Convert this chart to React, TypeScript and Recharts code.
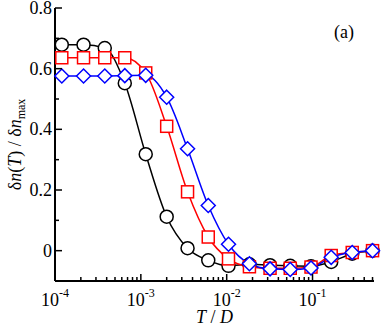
import React from 'react';
import { LineChart, Line, XAxis, YAxis } from 'recharts';

// T / D sample points (log-spaced)
const tOverD = [1.2e-4, 2.15e-4, 3.8e-4, 6.5e-4, 1.14e-3, 2.0e-3, 3.5e-3, 6.1e-3, 1.05e-2, 1.84e-2, 3.2e-2, 5.5e-2, 9.6e-2, 0.165, 0.29, 0.5];
const blackValues = [0.679, 0.679, 0.668, 0.552, 0.318, 0.112, 0.008, -0.032, -0.05, -0.045, -0.048, -0.05, -0.051, -0.037, -0.01, 0.0];
const redValues = [0.636, 0.636, 0.636, 0.636, 0.586, 0.41, 0.194, 0.045, -0.027, -0.053, -0.058, -0.058, -0.054, -0.016, -0.006, 0.0];
const blueValues = [0.576, 0.576, 0.576, 0.577, 0.578, 0.506, 0.336, 0.149, 0.021, -0.043, -0.06, -0.062, -0.057, -0.022, -0.006, 0.0];

const xMajorTicks = [1e-4, 1e-3, 1e-2, 1e-1];
const xMajorLabels = ['-4', '-3', '-2', '-1'];
const xMinorSteps = [2, 3, 4, 5, 6, 7, 8, 9];
const yTicks = [-0.1, 0, 0.1, 0.2, 0.3, 0.4, 0.5, 0.6, 0.7, 0.8];
const yMajorLabels = ['0', '0.2', '0.4', '0.6', '0.8'];

const X_DOMAIN = [1e-4, 0.52];
const Y_DOMAIN = [-0.1, 0.8];
const FONT = '"Liberation Serif", "Times New Roman", serif';

const data = tOverD.map((t, i) => ({
  t,
  black: blackValues[i],
  red: redValues[i],
  blue: blueValues[i],
}));

const xTicks: number[] = [];
xMajorTicks.forEach((m) => {
  xTicks.push(m);
  xMinorSteps.forEach((s) => {
    const v = m * s;
    if (v <= X_DOMAIN[1]) xTicks.push(v);
  });
});

const majorIndex = (v: number) => xMajorTicks.findIndex((m) => Math.abs(v / m - 1) < 1e-6);
const yMajorIndex = (v: number) => yMajorLabels.findIndex((l) => Math.abs(parseFloat(l) - v) < 1e-6);

const BottomTick = (props: any) => {
  const { x, y, payload } = props;
  const mi = majorIndex(payload.value);
  const major = mi >= 0;
  return (
    <g>
      <line x1={x} x2={x} y1={y} y2={y - (major ? 7 : 4)} stroke="#000" strokeWidth={1.5} />
      {major && (
        <text x={x} y={y + 25} textAnchor="middle" fontFamily={FONT} fontSize={18} fill="#000">
          10<tspan dy={-9} fontSize={12}>{xMajorLabels[mi]}</tspan>
        </text>
      )}
    </g>
  );
};

const TopTick = (props: any) => {
  const { x, y, payload } = props;
  const major = majorIndex(payload.value) >= 0;
  return <line x1={x} x2={x} y1={y} y2={y + (major ? 7 : 4)} stroke="#000" strokeWidth={1.5} />;
};

const LeftTick = (props: any) => {
  const { x, y, payload } = props;
  const mi = yMajorIndex(payload.value);
  const major = mi >= 0;
  return (
    <g>
      <line x1={x} x2={x + (major ? 7 : 4)} y1={y} y2={y} stroke="#000" strokeWidth={1.5} />
      {major && (
        <text x={x - 3} y={y + 6} textAnchor="end" fontFamily={FONT} fontSize={18} fill="#000">
          {yMajorLabels[mi]}
        </text>
      )}
    </g>
  );
};

const RightTick = (props: any) => {
  const { x, y, payload } = props;
  const major = yMajorIndex(payload.value) >= 0;
  return <line x1={x} x2={x - (major ? 7 : 4)} y1={y} y2={y} stroke="#000" strokeWidth={1.5} />;
};

// axis title plus the panel tag "(a)" near the top right corner of the plot
const XLabel = (props: any) => {
  const { x, y, width } = props.viewBox;
  return (
    <g>
      <text x={x + width / 2} y={y + 42} textAnchor="middle" fontFamily={FONT} fontSize={18} fill="#000">
        <tspan fontStyle="italic">T</tspan> / <tspan fontStyle="italic">D</tspan>
      </text>
      <text x={x + width - 30} y={38} textAnchor="middle" fontFamily={FONT} fontSize={18} fill="#000">
        (a)
      </text>
    </g>
  );
};

const YLabel = (props: any) => {
  const { y, height } = props.viewBox;
  const cy = y + height / 2;
  return (
    <text x={21} y={cy} transform={`rotate(-90, 21, ${cy})`} textAnchor="middle" fontFamily={FONT} fontSize={18} fill="#000">
      δ<tspan fontStyle="italic">n</tspan>(<tspan fontStyle="italic">T</tspan>) / δ<tspan fontStyle="italic">n</tspan>
      <tspan dy={4} fontSize={12}>max</tspan>
    </text>
  );
};

const CircleDot = (p: any) =>
  p.cx == null ? <g key={p.index} /> : (
    <circle key={p.index} cx={p.cx} cy={p.cy} r={6.5} fill="#fff" stroke="#000" strokeWidth={1.5} />
  );

const SquareDot = (p: any) =>
  p.cx == null ? <g key={p.index} /> : (
    <rect key={p.index} x={p.cx - 6} y={p.cy - 6} width={12} height={12} fill="#fff" stroke="#ff0000" strokeWidth={1.5} />
  );

const DiamondDot = (p: any) =>
  p.cx == null ? <g key={p.index} /> : (
    <polygon
      key={p.index}
      points={`${p.cx},${p.cy - 7} ${p.cx + 7},${p.cy} ${p.cx},${p.cy + 7} ${p.cx - 7},${p.cy}`}
      fill="#fff"
      stroke="#0000ff"
      strokeWidth={1.5}
    />
  );

const axisLine = { stroke: '#000', strokeWidth: 2 };

export default function App() {
  return (
    <div style={{ position: 'absolute', left: 0, top: 0, width: 382, height: 326, background: '#fff' }}>
      <LineChart width={382} height={326} data={data} margin={{ top: 8, right: 8, bottom: 0, left: 0 }}>
        <XAxis
          xAxisId="bottom"
          dataKey="t"
          type="number"
          scale="log"
          domain={X_DOMAIN}
          ticks={xTicks}
          interval={0}
          height={45}
          tickSize={0}
          tickMargin={0}
          tickLine={false}
          axisLine={axisLine}
          tick={<BottomTick />}
          label={<XLabel />}
        />
        <XAxis
          xAxisId="top"
          orientation="top"
          dataKey="t"
          type="number"
          scale="log"
          domain={X_DOMAIN}
          ticks={xTicks}
          interval={0}
          height={0}
          tickSize={0}
          tickMargin={0}
          tickLine={false}
          axisLine={axisLine}
          tick={<TopTick />}
        />
        <YAxis
          yAxisId="left"
          type="number"
          domain={Y_DOMAIN}
          ticks={yTicks}
          interval={0}
          width={55}
          tickSize={0}
          tickMargin={0}
          tickLine={false}
          axisLine={axisLine}
          tick={<LeftTick />}
          label={<YLabel />}
        />
        <YAxis
          yAxisId="right"
          orientation="right"
          type="number"
          domain={Y_DOMAIN}
          ticks={yTicks}
          interval={0}
          width={0}
          tickSize={0}
          tickMargin={0}
          tickLine={false}
          axisLine={axisLine}
          tick={<RightTick />}
        />
        <Line xAxisId="bottom" yAxisId="left" type="monotone" dataKey="black" stroke="#000" strokeWidth={1.5} dot={CircleDot} activeDot={false} isAnimationActive={false} />
        <Line xAxisId="bottom" yAxisId="left" type="monotone" dataKey="red" stroke="#ff0000" strokeWidth={1.5} dot={SquareDot} activeDot={false} isAnimationActive={false} />
        <Line xAxisId="bottom" yAxisId="left" type="monotone" dataKey="blue" stroke="#0000ff" strokeWidth={1.5} dot={DiamondDot} activeDot={false} isAnimationActive={false} />
      </LineChart>
    </div>
  );
}
